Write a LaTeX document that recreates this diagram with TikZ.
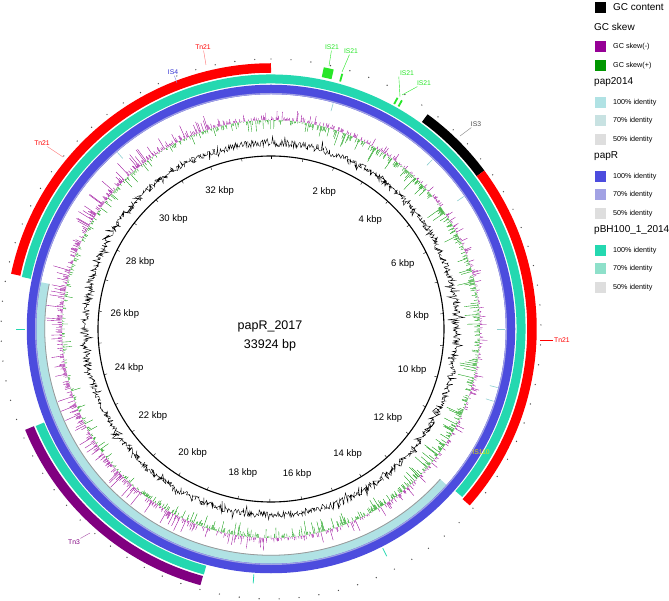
\documentclass[tikz,border=0pt]{standalone}
\usepackage{fontspec}
\setmainfont{Liberation Sans}
\usetikzlibrary{calc}
\definecolor{SkewNegClr}{RGB}{150,0,150}
\definecolor{SkewPosClr}{RGB}{0,150,0}
\definecolor{PapClr}{RGB}{176,226,228}
\definecolor{PapMidClr}{RGB}{200,226,226}
\definecolor{LowClr}{RGB}{222,222,222}
\definecolor{PapRClr}{RGB}{76,76,222}
\definecolor{PapRMidClr}{RGB}{162,162,228}
\definecolor{BHClr}{RGB}{36,216,176}
\definecolor{BHMidClr}{RGB}{142,224,202}
\definecolor{TnClr}{RGB}{255,0,0}
\definecolor{TnThreeClr}{RGB}{128,0,128}
\definecolor{ISClr}{RGB}{40,230,40}
\definecolor{ISFourClr}{RGB}{50,50,210}
\definecolor{ISOneTenClr}{RGB}{235,230,0}
\newcommand{\gring}[5]{\draw[#1, line width=#3pt] (90-#4:#2) arc[start angle=90-#4, end angle=90-#5, radius=#2];}
\tikzset{
  kbplbl/.style={font=\fontsize{9.5}{11}\selectfont, inner sep=0pt},
  annolbl/.style={font=\fontsize{6.8}{8}\selectfont, inner sep=1pt},
  leader/.style={line width=0.4pt},
  legbox/.style={minimum size=11pt, inner sep=0pt},
  leghead/.style={anchor=west, inner sep=0pt, font=\fontsize{10}{12}\selectfont},
  legtext/.style={anchor=west, inner sep=0pt, font=\fontsize{7.2}{9}\selectfont},
}

\begin{document}
\begin{tikzpicture}[x=1pt,y=1pt]
\useasboundingbox (0,0) rectangle (669,600);

\begin{scope}[shift={(271,271)}]
\pgfmathsetseed{1702}
% GC content
\draw[black, line width=0.4pt] plot[variable=\t, samples=1500, domain=0:359.76]
  ({90-\t}:{186+3.5*rand+6*rand*(rnd>0.8)});
% GC skew
\foreach \i in {0,...,1799}{
  \pgfmathsetmacro\g{\i*0.2}
  \pgfmathsetmacro\s{(rand-0.3*sin(\g))*9*(0.55+1.0*(rnd>0.75))}
  \ifdim\s pt>0pt
    \draw[SkewNegClr, line width=0.35pt] (90-\g:209) -- (90-\g:209+\s);
  \else
    \draw[SkewPosClr, line width=0.35pt] (90-\g:209) -- (90-\g:209+\s);
  \fi
}

\draw[line width=1.1pt] (0,0) circle[radius=173];
\foreach \k in {0,...,33}
  \draw[line width=0.4pt] ({90-\k/33.924*360}:173) -- ({90-\k/33.924*360}:170);
\foreach \k in {2,4,...,32}
  \node[kbplbl] (k\k) at ({90-\k/33.924*360}:147) {\k\ kbp};
\node[font=\fontsize{12.5}{15}\selectfont] (title) at (-1,3) {papR\_2017};
\node[font=\fontsize{12.5}{15}\selectfont] (size) at (-1,-16) {33924 bp};

% pap2014
\gring{PapClr}{230.5}{9}{131.6}{281.5}
\gring{gray!80}{226.3}{0.8}{131.6}{281.5}
\foreach \g in {15.4,43.6,55.5,90,104.5,108,319}
  \draw[PapClr!80!teal, line width=0.6pt] (90-\g:226) -- (90-\g:234);
% papR
\draw[PapRClr, line width=9.5pt] (0,0) circle[radius=239.5];
\draw[PapRMidClr, line width=1.2pt] (0,0) circle[radius=235.4];
% pBH100_1_2014
\gring{BHClr}{250}{9}{281.8}{491.3}
\gring{BHClr}{250}{9}{195.3}{247.6}
\foreach \g in {153,184,270}
  \draw[BHClr, line width=0.8pt] (90-\g:246) -- (90-\g:255);
% features
\gring{TnClr}{261}{9.5}{282}{360}
\gring{black}{261}{9.5}{36.1}{53.4}
\gring{TnClr}{261}{9.5}{53.4}{131.6}
\gring{TnThreeClr}{261}{9.5}{195.4}{247.7}
\gring{ISClr}{262}{10}{11.4}{13.6}
\gring{ISClr}{261}{8}{15.4}{15.8}
\gring{ISClr}{260}{7}{28.5}{28.9}
\gring{ISClr}{260}{7}{29.6}{30.0}
\foreach \i in {0,...,84}
  \fill[black!70] ({90-\i*4.2447}:270) circle[radius=0.7];
\end{scope}

% feature labels
\node[annolbl, TnClr] (tnTop) at (203,553) {Tn21};
\coordinate (tnTopEnd) at (206,535);
\draw[leader, TnClr!60] (tnTop) -- (tnTopEnd);
\node[annolbl, ISFourClr] (isFour) at (173,528) {IS4};
\coordinate (isFourEnd) at (177,517);
\draw[leader, ISFourClr!60] (isFour) -- (isFourEnd);
\node[annolbl, TnClr] (tnLeft) at (42,457) {Tn21};
\coordinate (tnLeftEnd) at (63,443);
\draw[leader, TnClr!60] (tnLeft) -- (tnLeftEnd);
\node[annolbl, ISClr] (isA) at (332,553) {IS21};
\coordinate (isAEnd) at (329,534);
\draw[leader, ISClr] (isA) -- (isAEnd);
\node[annolbl, ISClr] (isB) at (351,549) {IS21};
\coordinate (isBEnd) at (342,528);
\draw[leader, ISClr] (isB) -- (isBEnd);
\node[annolbl, ISClr] (isC) at (407,527) {IS21};
\coordinate (isCEnd) at (400,503);
\draw[leader, ISClr] (isC.south west) -- (isCEnd);
\node[annolbl, ISClr] (isD) at (424,517) {IS21};
\coordinate (isDEnd) at (402,505);
\draw[leader, ISClr] (isD) -- (isDEnd);
\node[annolbl, black!70] (isThree) at (476,476) {IS3};
\coordinate (isThreeEnd) at (460,464);
\draw[leader, black!50] (isThree) -- (isThreeEnd);
\node[annolbl, TnClr, anchor=west] (tnRight) at (553,260) {Tn21};
\coordinate (tnRightEnd) at (540,260);
\draw[leader, TnClr] (tnRight) -- (tnRightEnd);
\node[annolbl, ISOneTenClr] (isOneTen) at (481,148) {IS110};
\node[annolbl, TnThreeClr] (tnThree) at (74,58) {Tn3};
\coordinate (tnThreeEnd) at (90,67);
\draw[leader, TnThreeClr!70] (tnThree) -- (tnThreeEnd);

% legend
\node[legbox, fill=black] (lgGC) at (600,592.5) {};
\node[leghead, anchor=west] (lgGCt) at (613,592.5) {GC content};
\node[leghead] (hdSkew) at (594,573) {GC skew};
\node[legbox, fill=SkewNegClr] (lgNeg) at (600,553) {};
\node[legtext] (lgNegt) at (613,553) {GC skew(-)};
\node[legbox, fill=SkewPosClr] (lgPos) at (600,534.5) {};
\node[legtext] (lgPost) at (613,534.5) {GC skew(+)};
\node[leghead] (hdPap) at (594,517.5) {pap2014};
\node[legbox, fill=PapClr] (lgPapA) at (600,497.5) {};
\node[legtext] (lgPapAt) at (613,497.5) {100\% identity};
\node[legbox, fill=PapMidClr] (lgPapB) at (600,479) {};
\node[legtext] (lgPapBt) at (613,479) {70\% identity};
\node[legbox, fill=LowClr] (lgPapC) at (600,460.5) {};
\node[legtext] (lgPapCt) at (613,460.5) {50\% identity};
\node[leghead] (hdPapR) at (594,443.5) {papR};
\node[legbox, fill=PapRClr] (lgRA) at (600,423.5) {};
\node[legtext] (lgRAt) at (613,423.5) {100\% identity};
\node[legbox, fill=PapRMidClr] (lgRB) at (600,405) {};
\node[legtext] (lgRBt) at (613,405) {70\% identity};
\node[legbox, fill=LowClr] (lgRC) at (600,386.5) {};
\node[legtext] (lgRCt) at (613,386.5) {50\% identity};
\node[leghead] (hdBH) at (594,369.5) {pBH100\_1\_2014};
\node[legbox, fill=BHClr] (lgBA) at (600,349.5) {};
\node[legtext] (lgBAt) at (613,349.5) {100\% identity};
\node[legbox, fill=BHMidClr] (lgBB) at (600,331) {};
\node[legtext] (lgBBt) at (613,331) {70\% identity};
\node[legbox, fill=LowClr] (lgBC) at (600,312.5) {};
\node[legtext] (lgBCt) at (613,312.5) {50\% identity};
\end{tikzpicture}
\end{document}
